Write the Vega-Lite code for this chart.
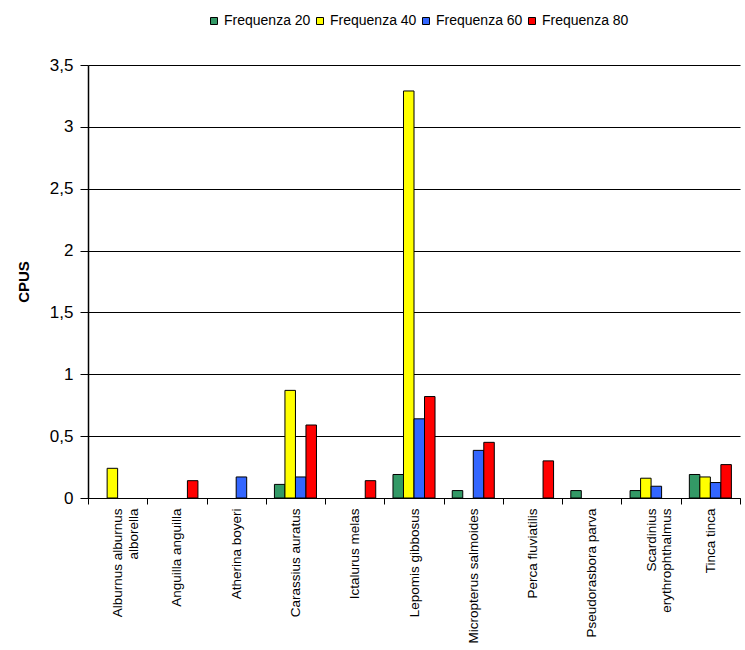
{
  "$schema": "https://vega.github.io/schema/vega-lite/v6.json",
  "width": 652,
  "height": 433,
  "autosize": "none",
  "padding": {"left": 88, "top": 65, "right": 5, "bottom": 152},
  "background": "white",
  "config": {
    "view": {"stroke": null},
    "font": "Liberation Sans"
  },
  "data": {
    "values": [
      {"species": "Alburnus alburnus alborella", "serie": "Frequenza 40", "cpus": 0.24},
      {"species": "Anguilla anguilla", "serie": "Frequenza 80", "cpus": 0.14},
      {"species": "Atherina boyeri", "serie": "Frequenza 60", "cpus": 0.17},
      {"species": "Carassius auratus", "serie": "Frequenza 20", "cpus": 0.11},
      {"species": "Carassius auratus", "serie": "Frequenza 40", "cpus": 0.87},
      {"species": "Carassius auratus", "serie": "Frequenza 60", "cpus": 0.17},
      {"species": "Carassius auratus", "serie": "Frequenza 80", "cpus": 0.59},
      {"species": "Ictalurus melas", "serie": "Frequenza 80", "cpus": 0.14},
      {"species": "Lepomis gibbosus", "serie": "Frequenza 20", "cpus": 0.19},
      {"species": "Lepomis gibbosus", "serie": "Frequenza 40", "cpus": 3.29},
      {"species": "Lepomis gibbosus", "serie": "Frequenza 60", "cpus": 0.64},
      {"species": "Lepomis gibbosus", "serie": "Frequenza 80", "cpus": 0.82},
      {"species": "Micropterus salmoides", "serie": "Frequenza 20", "cpus": 0.06},
      {"species": "Micropterus salmoides", "serie": "Frequenza 60", "cpus": 0.385},
      {"species": "Micropterus salmoides", "serie": "Frequenza 80", "cpus": 0.45},
      {"species": "Perca fluviatilis", "serie": "Frequenza 80", "cpus": 0.30},
      {"species": "Pseudorasbora parva", "serie": "Frequenza 20", "cpus": 0.06},
      {"species": "Scardinius erythrophthalmus", "serie": "Frequenza 20", "cpus": 0.06},
      {"species": "Scardinius erythrophthalmus", "serie": "Frequenza 40", "cpus": 0.16},
      {"species": "Scardinius erythrophthalmus", "serie": "Frequenza 60", "cpus": 0.095},
      {"species": "Tinca tinca", "serie": "Frequenza 20", "cpus": 0.19},
      {"species": "Tinca tinca", "serie": "Frequenza 40", "cpus": 0.17},
      {"species": "Tinca tinca", "serie": "Frequenza 60", "cpus": 0.125},
      {"species": "Tinca tinca", "serie": "Frequenza 80", "cpus": 0.27}
    ]
  },
  "mark": {"type": "bar", "stroke": "black", "strokeWidth": 1},
  "encoding": {
    "x": {
      "field": "species",
      "type": "nominal",
      "sort": [
        "Alburnus alburnus alborella", "Anguilla anguilla", "Atherina boyeri",
        "Carassius auratus", "Ictalurus melas", "Lepomis gibbosus",
        "Micropterus salmoides", "Perca fluviatilis", "Pseudorasbora parva",
        "Scardinius erythrophthalmus", "Tinca tinca"
      ],
      "scale": {"paddingInner": 0, "paddingOuter": 0},
      "axis": {
        "title": null,
        "tickBand": "extent",
        "domainColor": "black",
        "tickColor": "black",
        "tickSize": 6,
        "labelAngle": -90,
        "labelAlign": "right",
        "labelPadding": 4,
        "labelBaseline": "middle",
        "labelFontSize": 13.5,
        "labelColor": "black",
        "labelLimit": 220,
        "labelExpr": "datum.value == 'Alburnus alburnus alborella' ? ['Alburnus alburnus', 'alborella'] : datum.value == 'Scardinius erythrophthalmus' ? ['Scardinius', 'erythrophthalmus'] : datum.label"
      }
    },
    "xOffset": {
      "field": "serie",
      "type": "nominal",
      "scale": {
        "domain": ["Frequenza 20", "Frequenza 40", "Frequenza 60", "Frequenza 80"],
        "paddingInner": 0,
        "paddingOuter": 0.82
      }
    },
    "y": {
      "field": "cpus",
      "type": "quantitative",
      "scale": {"domain": [0, 3.5], "nice": false},
      "axis": {
        "title": "CPUS",
        "titleFontSize": 15,
        "titleFontWeight": "bold",
        "titleColor": "black",
        "titlePadding": 18,
        "values": [0, 0.5, 1, 1.5, 2, 2.5, 3, 3.5],
        "format": "~g",
        "labelExpr": "replace(datum.label, '.', ',')",
        "labelFontSize": 17,
        "labelColor": "black",
        "labelPadding": 7,
        "grid": true,
        "gridColor": "black",
        "gridOpacity": 1,
        "gridWidth": 1,
        "domainColor": "black",
        "domainWidth": 1.5,
        "tickColor": "black",
        "tickSize": 8
      }
    },
    "color": {
      "field": "serie",
      "type": "nominal",
      "scale": {
        "domain": ["Frequenza 20", "Frequenza 40", "Frequenza 60", "Frequenza 80"],
        "range": ["#339966", "#FFFF00", "#3366FF", "#FF0000"]
      },
      "legend": {
        "title": null,
        "orient": "none",
        "direction": "horizontal",
        "legendX": 119,
        "legendY": -51,
        "symbolType": "square",
        "symbolSize": 49,
        "symbolStrokeColor": "black",
        "symbolStrokeWidth": 1,
        "labelFontSize": 14,
        "labelColor": "black",
        "labelOffset": 3,
        "columnPadding": 2
      }
    }
  }
}
